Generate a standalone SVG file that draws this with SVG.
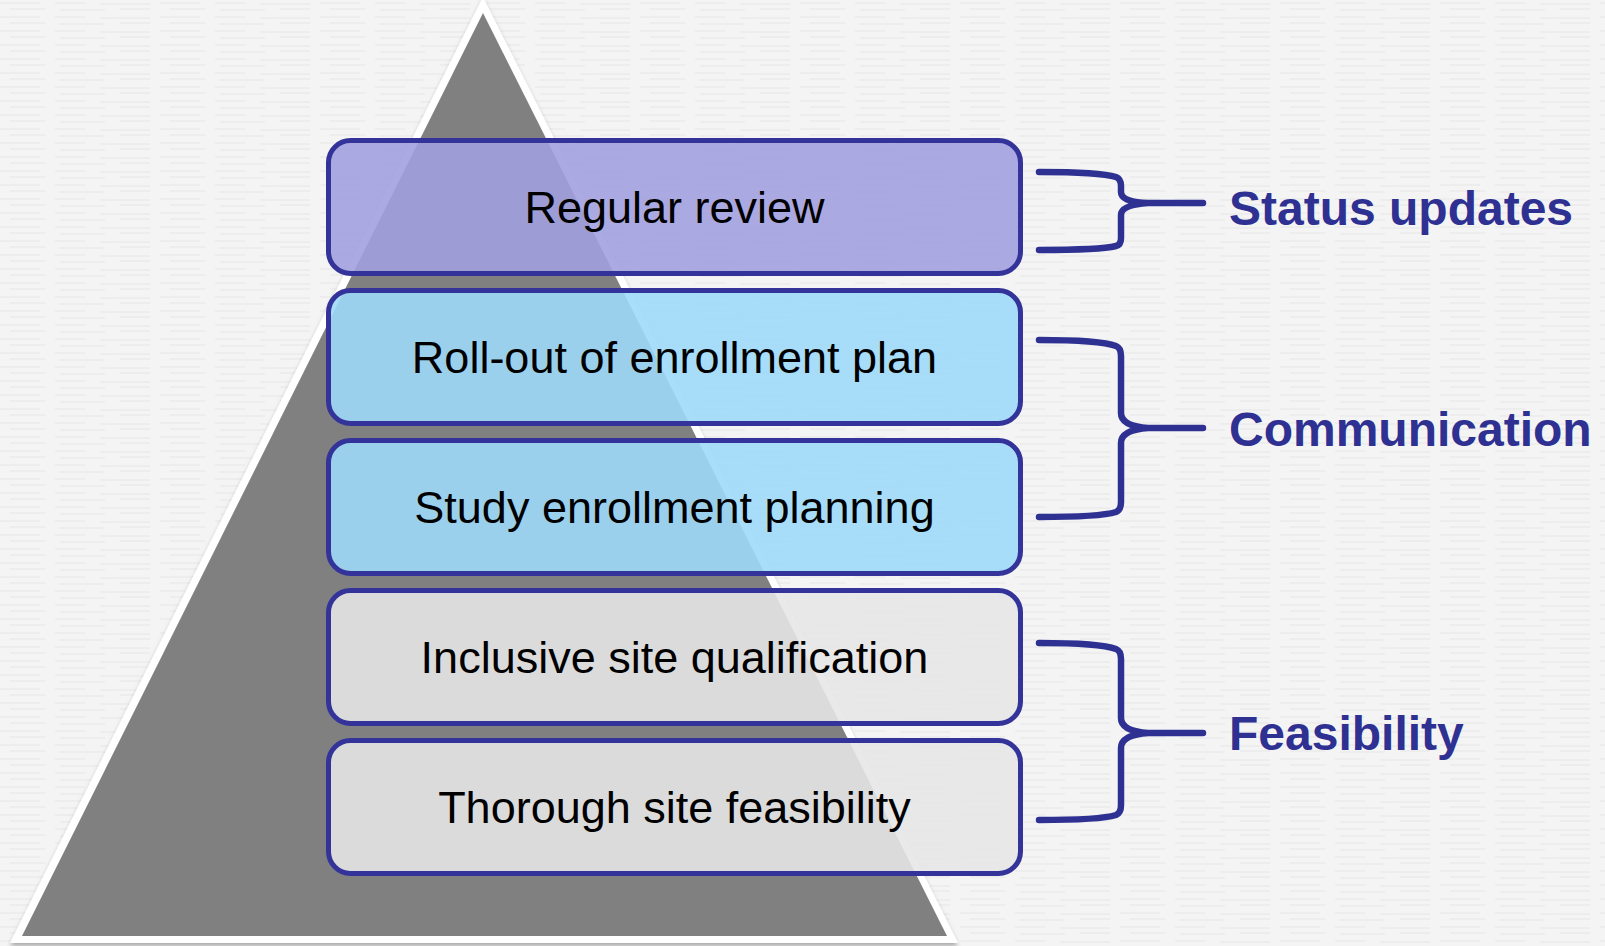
<svg xmlns="http://www.w3.org/2000/svg" width="1605" height="946" viewBox="0 0 1605 946">
<style>
.box{stroke:#33339A;stroke-width:5;fill-opacity:0.89}
.purple{fill:#A29FDF}
.blue{fill:#9EDAFA}
.grey{fill:#E6E6E6}
.btxt{font-family:"Liberation Sans",Arial,sans-serif;font-size:45px;fill:#000;text-anchor:middle}
.ltxt{font-family:"Liberation Sans",Arial,sans-serif;font-size:48px;font-weight:bold;fill:#2E3192}
.brace{fill:none;stroke:#2E3192;stroke-width:6.5;stroke-linecap:round;stroke-linejoin:round}
</style>
<defs>
<pattern id="tex" width="160" height="14" patternUnits="userSpaceOnUse">
<rect width="160" height="14" fill="#F4F4F4"/>
<path d="M0 3h40M55 3h30M100 4h50M10 9h35M60 10h45M120 9h30" stroke="#E6E6E6" stroke-width="1.2"/>
</pattern>
<filter id="sh" x="-5%" y="-5%" width="110%" height="110%">
<feDropShadow dx="0" dy="3" stdDeviation="2" flood-color="#000" flood-opacity="0.3"/>
</filter>
</defs>
<rect width="1605" height="946" fill="url(#tex)"/>
<g id="pyramid">
<polygon points="483,-3 10,943 958,943" fill="#FFFFFF" filter="url(#sh)"/>
<polygon points="483,13 22,936 947,936" fill="#808080"/>
</g>
<g id="node-regular-review">
<rect class="box purple" x="328.5" y="140.5" width="692" height="133" rx="22"/>
<text class="btxt" x="674.5" y="223">Regular review</text>
</g>
<g id="node-rollout">
<rect class="box blue" x="328.5" y="290.5" width="692" height="133" rx="22"/>
<text class="btxt" x="674.5" y="373">Roll-out of enrollment plan</text>
</g>
<g id="node-study-planning">
<rect class="box blue" x="328.5" y="440.5" width="692" height="133" rx="22"/>
<text class="btxt" x="674.5" y="523">Study enrollment planning</text>
</g>
<g id="node-site-qualification">
<rect class="box grey" x="328.5" y="590.5" width="692" height="133" rx="22"/>
<text class="btxt" x="674.5" y="673">Inclusive site qualification</text>
</g>
<g id="node-site-feasibility">
<rect class="box grey" x="328.5" y="740.5" width="692" height="133" rx="22"/>
<text class="btxt" x="674.5" y="823">Thorough site feasibility</text>
</g>
<g id="connectors">
<path class="brace" d="M1039,172 Q1100,172 1116,177 Q1121,179 1121,186 L1121,192 Q1121,202 1148,203 L1203,203 M1148,203 Q1121,205 1121,215 L1121,238 Q1121,245 1116,246 Q1100,250 1039,250"/>
<path class="brace" d="M1039,340 Q1100,340 1116,346 Q1121,348 1121,356 L1121,413 Q1121,426 1148,428 L1203,428 M1148,428 Q1121,430 1121,443 L1121,502 Q1121,510 1116,512 Q1100,517 1039,517"/>
<path class="brace" d="M1039,643 Q1100,643 1116,649 Q1121,651 1121,659 L1121,718 Q1121,731 1148,733 L1203,733 M1148,733 Q1121,735 1121,748 L1121,805 Q1121,813 1116,815 Q1100,820 1039,820"/>
</g>
<g id="label-status-updates"><text class="ltxt" x="1229" y="225">Status updates</text></g>
<g id="label-communication"><text class="ltxt" x="1229" y="446">Communication</text></g>
<g id="label-feasibility"><text class="ltxt" x="1229" y="750">Feasibility</text></g>
</svg>
